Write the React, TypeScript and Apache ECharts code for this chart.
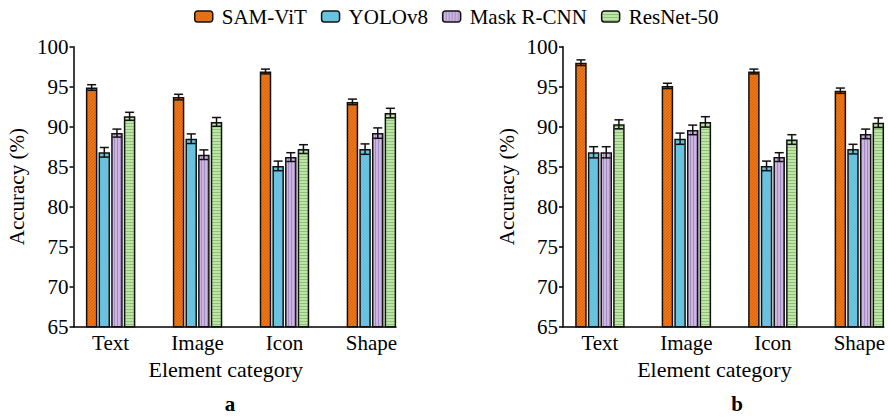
import React, { useEffect, useRef } from "react";
import * as echarts from "echarts";

const categories = ["Text", "Image", "Icon", "Shape"];
const seriesNames = ["SAM-ViT", "YOLOv8", "Mask R-CNN", "ResNet-50"];
const panelLabels = ["a", "b"];

// Panel a
const aSamVit = [94.9, 93.7, 96.9, 93.1];
const aYolo = [86.8, 88.5, 85.1, 87.2];
const aMask = [89.2, 86.5, 86.2, 89.2];
const aResNet = [91.3, 90.6, 87.2, 91.7];
const aSamVitErr = [0.35, 0.35, 0.3, 0.35];
const aYoloErr = [0.6, 0.6, 0.6, 0.65];
const aMaskErr = [0.5, 0.6, 0.55, 0.65];
const aResNetErr = [0.5, 0.55, 0.55, 0.6];

// Panel b
const bSamVit = [98.0, 95.1, 96.9, 94.5];
const bYolo = [86.8, 88.5, 85.1, 87.2];
const bMask = [86.8, 89.6, 86.2, 89.1];
const bResNet = [90.3, 90.6, 88.4, 90.5];
const bSamVitErr = [0.35, 0.33, 0.3, 0.33];
const bYoloErr = [0.7, 0.7, 0.6, 0.6];
const bMaskErr = [0.7, 0.6, 0.55, 0.6];
const bResNetErr = [0.56, 0.65, 0.6, 0.6];

const yTicks = { min: 65, max: 100, interval: 5 };

const FONT = "'Liberation Serif', serif";
const BAR_W = 11.5;
const BAR_GAP = 0.1;

function makePattern(base: string, line: string, kind: string) {
  const c = document.createElement("canvas");
  c.width = 3;
  c.height = 3;
  const ctx = c.getContext("2d")!;
  ctx.fillStyle = base;
  ctx.fillRect(0, 0, 3, 3);
  ctx.fillStyle = line;
  if (kind === "v") ctx.fillRect(0, 0, 1, 3);
  else if (kind === "h") ctx.fillRect(0, 0, 3, 1);
  else if (kind === "d") {
    for (let i = 0; i < 3; i++) ctx.fillRect(i, 2 - i, 1, 1);
  }
  return { image: c, repeat: "repeat" } as any;
}

export default function App() {
  const ref = useRef<HTMLDivElement>(null);
  useEffect(() => {
    if (!ref.current) return;
    const chart = echarts.init(ref.current, undefined, { renderer: "svg" });
    const colors = [
      makePattern("#ee7618", "#d9640e", "d"),
      makePattern("#6cc6e2", "#62bcd9", "d"),
      makePattern("#ccb6df", "#a48bc5", "v"),
      makePattern("#bfe3a8", "#8cc572", "h"),
    ];
    const panels = [
      { vals: [aSamVit, aYolo, aMask, aResNet], errs: [aSamVitErr, aYoloErr, aMaskErr, aResNetErr] },
      { vals: [bSamVit, bYolo, bMask, bResNet], errs: [bSamVitErr, bYoloErr, bMaskErr, bResNetErr] },
    ];
    const grids = [
      { left: 73.5, top: 46.7, width: 322.5, height: 280 },
      { left: 563, top: 46.7, width: 323, height: 280 },
    ];
    const xAxes = grids.map((_, i) => ({
      type: "value",
      gridIndex: i,
      min: 0.573,
      max: 4.283,
      splitLine: { show: false },
      axisTick: { show: false },
      axisLine: { show: true, onZero: false, lineStyle: { color: "#000", width: 1.5 } },
      axisLabel: {
        customValues: [1, 2, 3, 4],
        formatter: (v: number) => categories[Math.round(v) - 1] ?? "",
        color: "#000",
        fontSize: 21,
        fontFamily: FONT,
        margin: 6,
      },
      name: "Element category",
      nameLocation: "middle",
      nameGap: 32,
      nameTextStyle: { color: "#000", fontSize: 22, fontFamily: FONT, padding: [0, 18, 0, 0] },
    }));
    const yAxes = grids.map((_, i) => ({
      type: "value",
      gridIndex: i,
      min: yTicks.min,
      max: yTicks.max,
      interval: yTicks.interval,
      splitLine: { show: false },
      axisTick: { show: true, length: 4, lineStyle: { color: "#000", width: 1.5 } },
      axisLine: { show: true, onZero: false, lineStyle: { color: "#000", width: 1.5 } },
      axisLabel: { color: "#000", fontSize: 21, fontFamily: FONT, margin: 5 },
      name: "Accuracy (%)",
      nameLocation: "middle",
      nameGap: 46,
      nameTextStyle: { color: "#000", fontSize: 21, fontFamily: FONT },
    }));
    const series: any[] = [];
    panels.forEach((p, pi) => {
      p.vals.forEach((vals, si) => {
        series.push({
          type: "bar",
          name: seriesNames[si],
          xAxisIndex: pi,
          yAxisIndex: pi,
          barWidth: BAR_W,
          barGap: BAR_GAP * 100 + "%",
          data: vals.map((v, ci) => [ci + 1, v]),
          itemStyle: { color: colors[si], borderColor: "#111", borderWidth: 1.5 },
          z: 2,
        });
      });
      const errData: number[][] = [];
      p.vals.forEach((vals, si) =>
        vals.forEach((v, ci) => errData.push([ci + 1, v, p.errs[si][ci], si]))
      );
      series.push({
        type: "custom",
        xAxisIndex: pi,
        yAxisIndex: pi,
        z: 5,
        silent: true,
        data: errData,
        encode: { x: 0, y: 1 },
        renderItem: (params: any, api: any) => {
          const x = api.value(0);
          const y = api.value(1);
          const e = api.value(2);
          const s = api.value(3);
          const off = (s - 1.5) * BAR_W * (1 + BAR_GAP);
          const top = api.coord([x, y + e]);
          const bot = api.coord([x, y - e]);
          const cx = top[0] + off;
          const hw = 4.5;
          const st = { stroke: "#111", lineWidth: 1.5, fill: "none" };
          return {
            type: "group",
            children: [
              { type: "line", shape: { x1: cx, y1: top[1], x2: cx, y2: bot[1] }, style: st },
              { type: "line", shape: { x1: cx - hw, y1: top[1], x2: cx + hw, y2: top[1] }, style: st },
              { type: "line", shape: { x1: cx - hw, y1: bot[1], x2: cx + hw, y2: bot[1] }, style: st },
            ],
          };
        },
      });
    });
    chart.setOption({
      animation: false,
      backgroundColor: "#fff",
      legend: {
        data: seriesNames,
        top: 1,
        left: 189,
        itemWidth: 18,
        itemHeight: 11,
        itemGap: 14,
        itemStyle: { borderColor: "#111", borderWidth: 1.5 },
        textStyle: { color: "#000", fontSize: 21, fontFamily: FONT, padding: [0, 0, 0, 4] },
      },
      grid: grids,
      xAxis: xAxes,
      yAxis: yAxes,
      series,
      graphic: panelLabels.map((t, i) => ({
        type: "text",
        x: i === 0 ? 230 : 737,
        y: 404,
        style: {
          text: t,
          fill: "#000",
          font: "bold 21px 'Liberation Serif', serif",
          align: "center",
          verticalAlign: "middle",
        },
      })),
    });
    return () => chart.dispose();
  }, []);
  return (
    <div
      ref={ref}
      style={{ position: "fixed", left: 0, top: 0, width: 888, height: 418, background: "#fff" }}
    />
  );
}
